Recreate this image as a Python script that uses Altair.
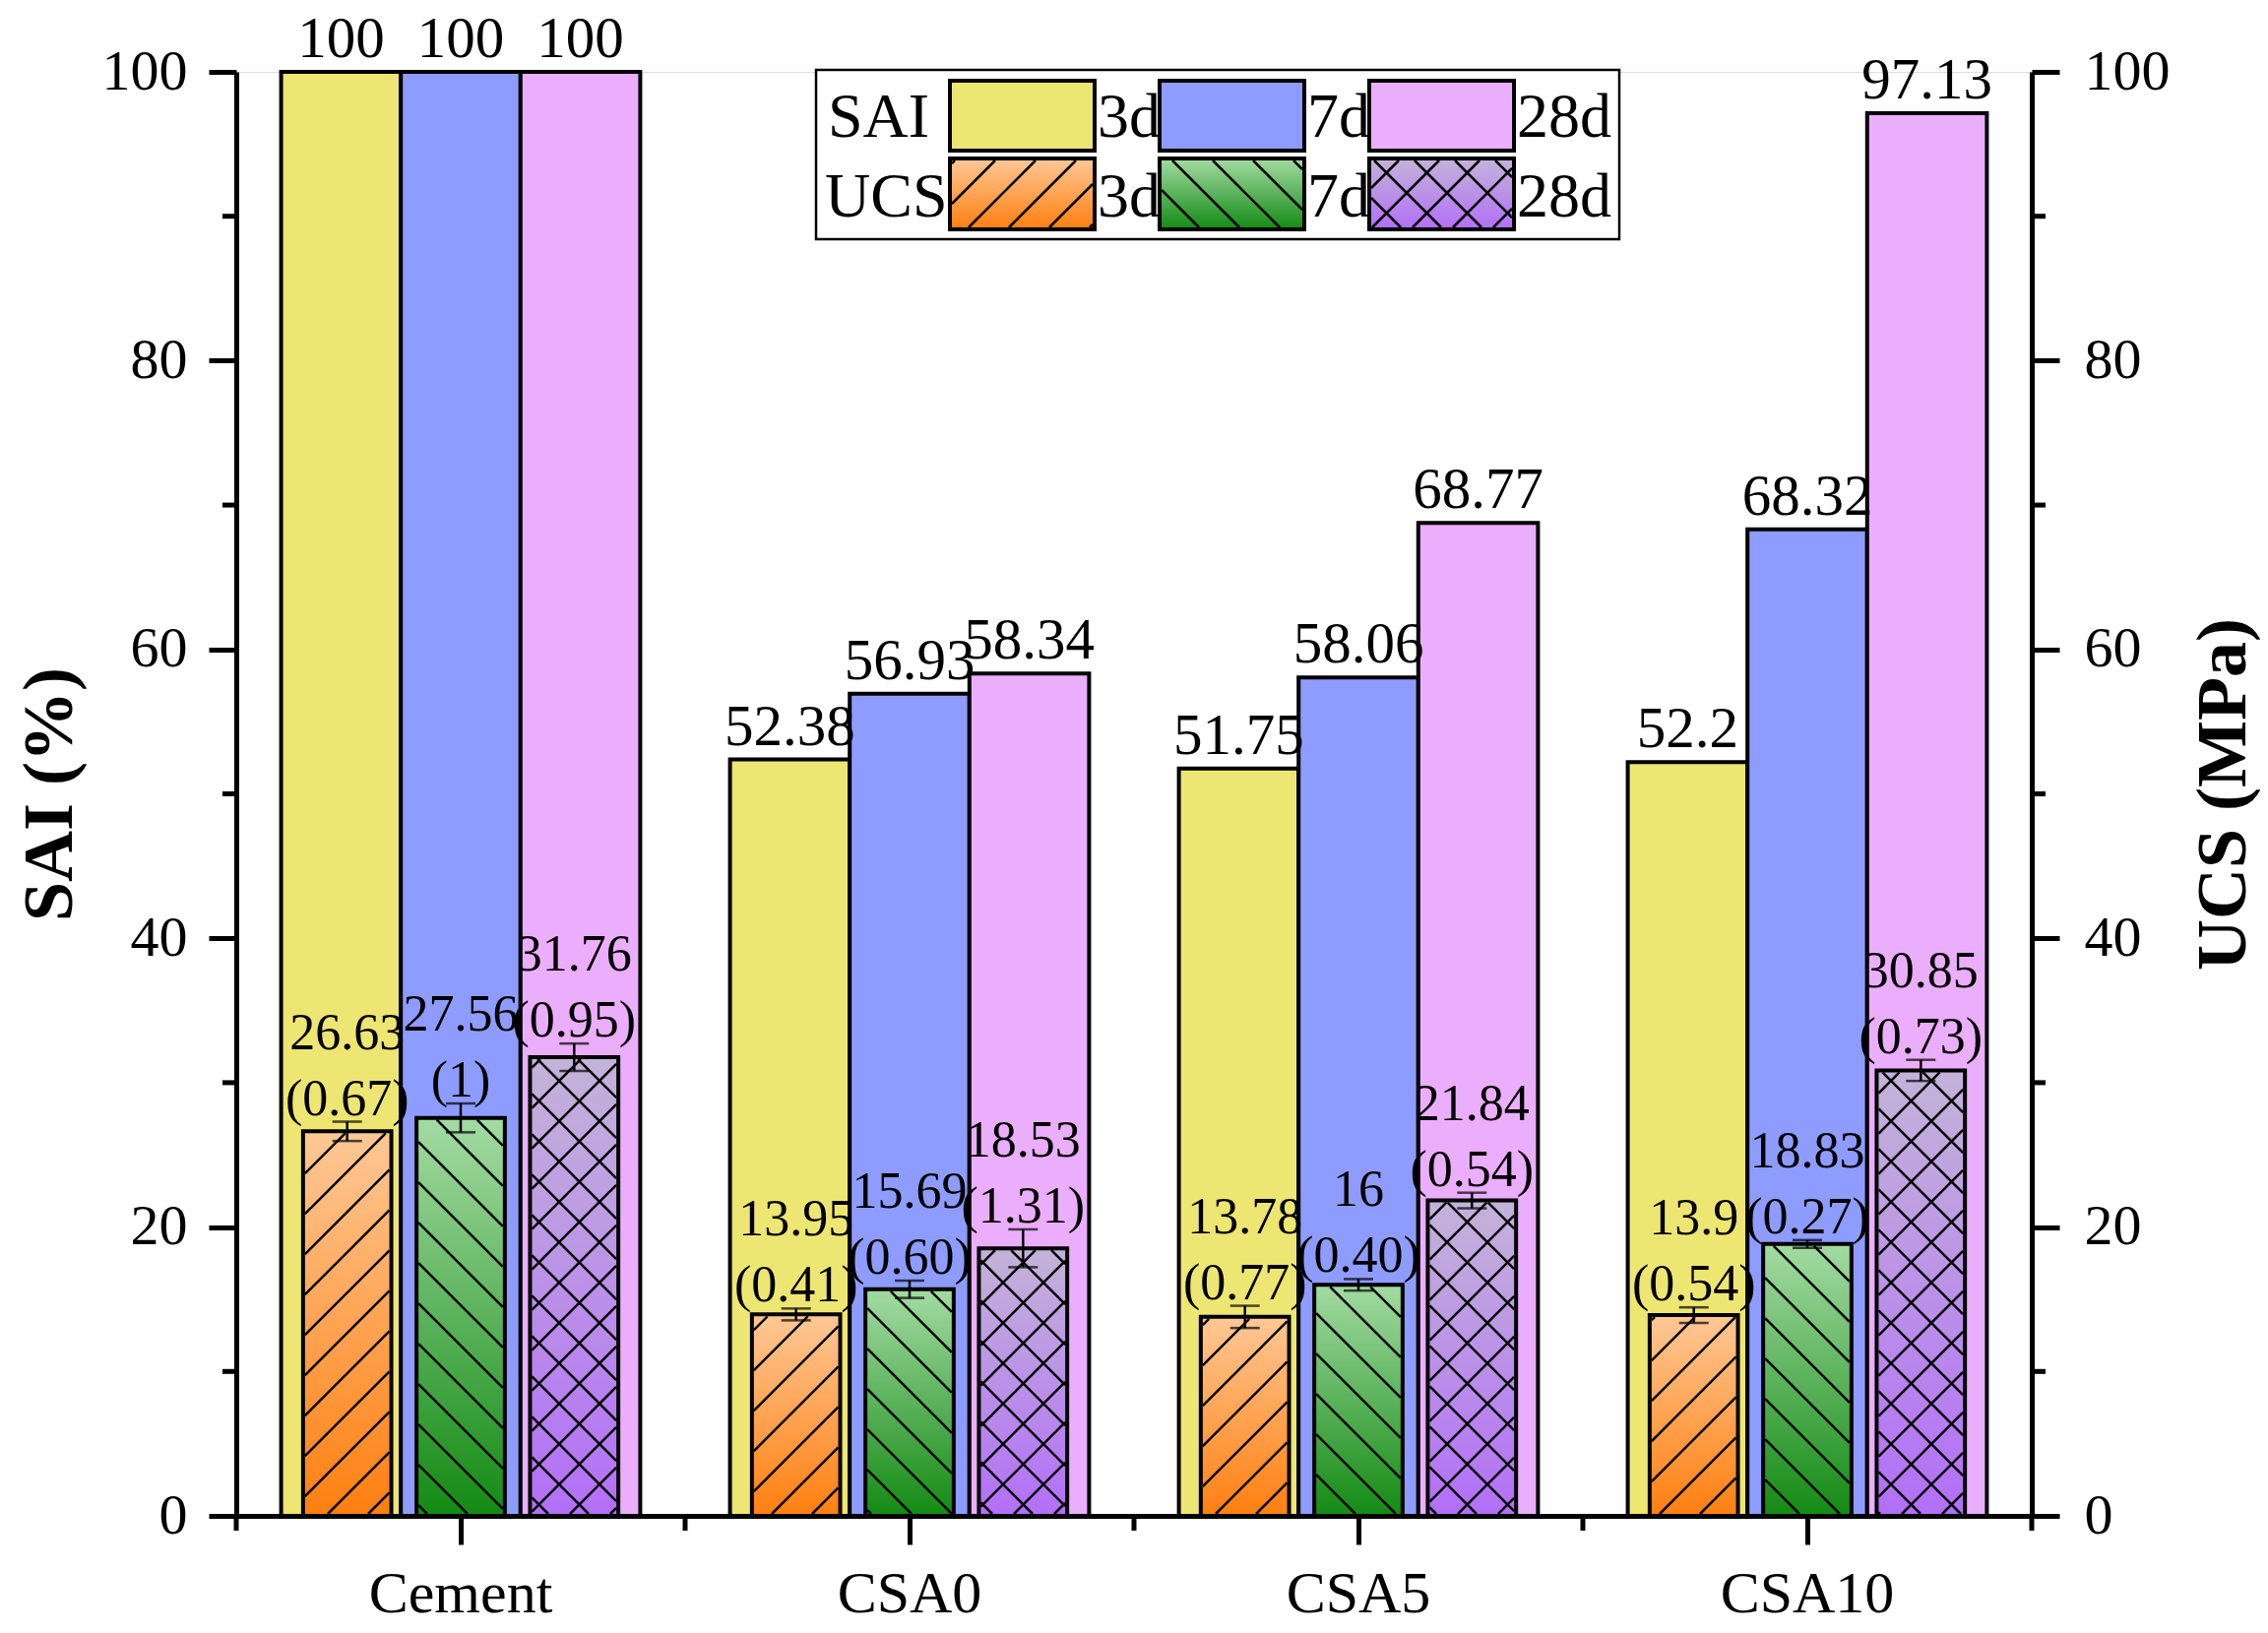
import altair as alt
import pandas as pd
import numpy as np

# ---------------- data ----------------
categories = ["Cement", "CSA0", "CSA5", "CSA10"]
ages = ["3d", "7d", "28d"]

sai_3d = [100, 52.38, 51.75, 52.2]
sai_7d = [100, 56.93, 58.06, 68.32]
sai_28d = [100, 58.34, 68.77, 97.13]

ucs_3d = [26.63, 13.95, 13.78, 13.9]
ucs_7d = [27.56, 15.69, 16, 18.83]
ucs_28d = [31.76, 18.53, 21.84, 30.85]

ucs_err_3d = ["0.67", "0.41", "0.77", "0.54"]
ucs_err_7d = ["1", "0.60", "0.40", "0.27"]
ucs_err_28d = ["0.95", "1.31", "0.54", "0.73"]

major_ticks = [0, 20, 40, 60, 80, 100]
minor_ticks = [10, 30, 50, 70, 90]

# ---------------- styles / layout ----------------
FONT = "Liberation Serif"
W, H = 1824, 1467
PAD_IN, PAD_OUT = 0.2, 0.1          # category band padding
U_PAD_IN, U_PAD_OUT = 0.222, 0.193  # UCS bars inside a category
SAI_COLORS = ["#EEE673", "#8F9CFF", "#EBAEFC"]
GRAD_COLORS = {
    "3d": ("#FFC896", "#FF7F10"),
    "7d": ("#A3DBA3", "#138A13"),
    "28d": ("#C3B3D8", "#B36FF8"),
}
HATCH = {"3d": ["/"], "7d": ["\\"], "28d": ["/", "\\"]}
HATCH_SP = 41.0


def grad(a):
    top, bot = GRAD_COLORS[a]
    return alt.LinearGradient(
        gradient="linear", x1=0, x2=0, y1=0, y2=1,
        stops=[alt.GradientStop(color=top, offset=0),
               alt.GradientStop(color=bot, offset=1)])


def hatch(L, R, T, B, kinds, sp=HATCH_SP):
    segs = []
    for kind in kinds:
        if kind == "/":  # x + y = c (y downward)
            k0, k1 = int(np.floor((L + T) / sp)), int(np.ceil((R + B) / sp))
            for k in range(k0, k1 + 1):
                c = k * sp
                xlo, xhi = max(L, c - B), min(R, c - T)
                if xhi - xlo > 1:
                    segs.append((xlo, c - xlo, xhi, c - xhi))
        else:  # x - y = c
            k0, k1 = int(np.floor((L - B) / sp)), int(np.ceil((R - T) / sp))
            for k in range(k0, k1 + 1):
                c = k * sp
                xlo, xhi = max(L, c + T), min(R, c + B)
                if xhi - xlo > 1:
                    segs.append((xlo, xlo - c, xhi, xhi - c))
    return segs


# ---------------- tables ----------------
sai_rows = []
for j, (a, vals) in enumerate(zip(ages, [sai_3d, sai_7d, sai_28d])):
    for i, c in enumerate(categories):
        sai_rows.append(dict(cat=c, age=a, v=vals[i], lab=f"{vals[i]:g}"))
sai_df = pd.DataFrame(sai_rows)

ucs_rows = []
for j, (a, vals, errs) in enumerate(zip(ages, [ucs_3d, ucs_7d, ucs_28d],
                                        [ucs_err_3d, ucs_err_7d, ucs_err_28d])):
    for i, c in enumerate(categories):
        e = float(errs[i])
        ucs_rows.append(dict(cat=c, age=a, v=vals[i], lo=vals[i] - e, hi=vals[i] + e,
                             lab=f"{vals[i]:g}", elab=f"({errs[i]})"))
ucs_df = pd.DataFrame(ucs_rows)

# hatch segments for UCS bars, in data units (category units, MPa)
kx = W / len(categories)
ky = H / 100.0
band = 1 - PAD_IN
u_step = band / (len(ages) - U_PAD_IN + 2 * U_PAD_OUT)
u_bw = u_step * (1 - U_PAD_IN)
ins = 2.0
h_rows = []
for r in ucs_rows:
    i = categories.index(r["cat"])
    j = ages.index(r["age"])
    cx = (i + 0.5 + (j - 1) * u_step) * kx
    L, R = cx - u_bw * kx / 2 + ins, cx + u_bw * kx / 2 - ins
    T, B = H - r["v"] * ky + ins, H - ins
    for (xa, ya, xb, yb) in hatch(L, R, T, B, HATCH[r["age"]]):
        h_rows.append(dict(x1=xa / kx, x2=xb / kx, y1=(H - ya) / ky, y2=(H - yb) / ky))
hatch_df = pd.DataFrame(h_rows)

# ---------------- scales / axes ----------------
xband = alt.Scale(domain=categories, paddingInner=PAD_IN, paddingOuter=PAD_OUT)
yscale = alt.Scale(domain=[0, 100], nice=False, zero=True)
sai_off = alt.Scale(domain=ages, paddingInner=0, paddingOuter=0)
ucs_off = alt.Scale(domain=ages, paddingInner=U_PAD_IN, paddingOuter=U_PAD_OUT)

common_axis = dict(labelFont=FONT, labelColor="black", tickColor="black",
                   domainColor="black", tickWidth=5, domainWidth=5, grid=False,
                   zindex=1, titleFont=FONT, titleColor="black", labelLimit=0)

x_axis = alt.Axis(title=None, labelFontSize=60, labelAngle=0, labelBaseline="alphabetic",
                  labelPadding=68, tickSize=29, bandPosition=0.5, **common_axis)
y_left = alt.Axis(values=major_ticks, format="d", title="SAI (%)", titleFontSize=72,
                  titleFontWeight="bold", titleAngle=270, titleX=-168, titleY=H / 2,
                  titleAlign="center", titleBaseline="alphabetic",
                  labelFontSize=58, labelPadding=22, tickSize=28, **common_axis)
y_right = alt.Axis(orient="right", values=major_ticks, format="d", title="UCS (MPa)",
                   titleFontSize=72, titleFontWeight="bold", titleAngle=270, titleX=216,
                   titleY=H / 2, titleAlign="center", titleBaseline="alphabetic",
                   labelFontSize=58, labelPadding=25, tickSize=28, **common_axis)

# ---------------- SAI ----------------
sai_base = alt.Chart(sai_df).encode(
    x=alt.X("cat:N", scale=xband, axis=x_axis),
    xOffset=alt.XOffset("age:N", scale=sai_off),
    y=alt.Y("v:Q", scale=yscale, axis=y_left),
)
sai_bars = sai_base.mark_bar(stroke="black", strokeWidth=4).encode(
    fill=alt.Fill("age:N", scale=alt.Scale(domain=ages, range=SAI_COLORS), legend=None))
sai_text = sai_base.mark_text(dy=-15, baseline="alphabetic", font=FONT, fontSize=59,
                              color="black").encode(text="lab:N")
sai_group = alt.layer(sai_bars, sai_text)

# ---------------- UCS bars ----------------
ucs_base = alt.Chart(ucs_df).encode(
    x=alt.X("cat:N", scale=xband, axis=None),
    xOffset=alt.XOffset("age:N", scale=ucs_off),
)
ucs_bars = alt.layer(*[
    ucs_base.transform_filter(alt.datum.age == a).mark_bar(
        fill=grad(a), stroke="black", strokeWidth=4).encode(
        y=alt.Y("v:Q", scale=yscale, axis=y_right))
    for a in ages
])

# ---------------- hatch + minor ticks ----------------
xq = alt.Scale(domain=[0, len(categories)], nice=False, zero=False)
hatch_lines = alt.Chart(hatch_df).mark_rule(color="black", strokeWidth=2.5).encode(
    x=alt.X("x1:Q", scale=xq, axis=None), x2="x2:Q",
    y=alt.Y("y1:Q", scale=yscale, axis=None), y2="y2:Q")
minor_df = pd.DataFrame({"v": minor_ticks})
minor_left = alt.Chart(minor_df).mark_rule(color="black", strokeWidth=5).encode(
    y=alt.Y("v:Q", scale=yscale, axis=None), x=alt.value(-14), x2=alt.value(0))
minor_right = alt.Chart(minor_df).mark_rule(color="black", strokeWidth=5).encode(
    y=alt.Y("v:Q", scale=yscale, axis=None), x=alt.value(W), x2=alt.value(W + 14))
bound_df = pd.DataFrame({"b": list(range(len(categories) + 1))})
minor_bottom = alt.Chart(bound_df).mark_rule(color="black", strokeWidth=5).encode(
    x=alt.X("b:Q", scale=xq, axis=None), y=alt.value(H), y2=alt.value(H + 15))
deco = alt.layer(hatch_lines, minor_left, minor_right, minor_bottom)

# ---------------- UCS error bars + labels ----------------
err_rule = ucs_base.mark_rule(color="black", strokeWidth=2.5).encode(
    y=alt.Y("lo:Q", scale=yscale, axis=None), y2="hi:Q")
cap_hi = ucs_base.mark_tick(color="black", thickness=2.5, size=30).encode(
    y=alt.Y("hi:Q", scale=yscale, axis=None))
cap_lo = ucs_base.mark_tick(color="black", thickness=2.5, size=30).encode(
    y=alt.Y("lo:Q", scale=yscale, axis=None))
ucs_elab = ucs_base.mark_text(dy=-7, baseline="alphabetic", font=FONT, fontSize=52,
                              color="black").encode(
    y=alt.Y("hi:Q", scale=yscale, axis=None), text="elab:N")
ucs_vlab = ucs_base.mark_text(dy=-74, baseline="alphabetic", font=FONT, fontSize=52,
                              color="black").encode(
    y=alt.Y("hi:Q", scale=yscale, axis=None), text="lab:N")
ucs_top = alt.layer(err_rule, cap_hi, cap_lo, ucs_elab, ucs_vlab)

# ---------------- legend (pixel space of the plot) ----------------
LBOX = dict(x=589, x2=1405, y=-2, y2=170)
SW_X = [725, 938, 1151]
SW_W = 147
ROW_Y = [(9, 80), (88, 160)]
ROW_BASE = [66, 147]
px = alt.Scale(domain=[0, W], nice=False, zero=False)
py = alt.Scale(domain=[0, H], nice=False, zero=False, reverse=True)


def lrect(df, **mark):
    return alt.Chart(df).mark_rect(**mark).encode(
        x=alt.X("x:Q", scale=px, axis=None), x2="x2:Q",
        y=alt.Y("y:Q", scale=py, axis=None), y2="y2:Q")


leg_layers = [lrect(pd.DataFrame([LBOX]), fill="white", stroke="black", strokeWidth=2.5)]
leg_hatch = []
for j, a in enumerate(ages):
    x0 = SW_X[j]
    r1 = pd.DataFrame([dict(x=x0, x2=x0 + SW_W, y=ROW_Y[0][0], y2=ROW_Y[0][1])])
    r2 = pd.DataFrame([dict(x=x0, x2=x0 + SW_W, y=ROW_Y[1][0], y2=ROW_Y[1][1])])
    leg_layers.append(lrect(r1, fill=SAI_COLORS[j], stroke="black", strokeWidth=4))
    leg_layers.append(lrect(r2, fill=grad(a), stroke="black", strokeWidth=4))
    for (xa, ya, xb, yb) in hatch(x0 + ins, x0 + SW_W - ins, ROW_Y[1][0] + ins,
                                  ROW_Y[1][1] - ins, HATCH[a]):
        leg_hatch.append(dict(x=xa, y=ya, x2=xb, y2=yb))
leg_layers.append(alt.Chart(pd.DataFrame(leg_hatch)).mark_rule(
    color="black", strokeWidth=2.5).encode(
    x=alt.X("x:Q", scale=px, axis=None), x2="x2:Q",
    y=alt.Y("y:Q", scale=py, axis=None), y2="y2:Q"))

leg_text_rows = [dict(x=601, y=ROW_BASE[0], t="SAI"), dict(x=598, y=ROW_BASE[1], t="UCS")]
for j, a in enumerate(ages):
    for rb in ROW_BASE:
        leg_text_rows.append(dict(x=SW_X[j] + SW_W + 3, y=rb, t=a))
leg_layers.append(alt.Chart(pd.DataFrame(leg_text_rows)).mark_text(
    align="left", baseline="alphabetic", font=FONT, fontSize=64, color="black").encode(
    x=alt.X("x:Q", scale=px, axis=None), y=alt.Y("y:Q", scale=py, axis=None), text="t:N"))
legend = alt.layer(*leg_layers)

# ---------------- compose ----------------
chart = alt.layer(sai_group, ucs_bars, deco, ucs_top, legend).resolve_scale(
    x="independent", y="independent", xOffset="independent"
).properties(
    width=W, height=H,
    autosize=alt.AutoSizeParams(type="none"),
    padding={"left": 232, "top": 65, "right": 232, "bottom": 105},
).configure_view(stroke=None).configure(background="white")

chart.save("out.html", embed_options={"renderer": "svg", "actions": False})
